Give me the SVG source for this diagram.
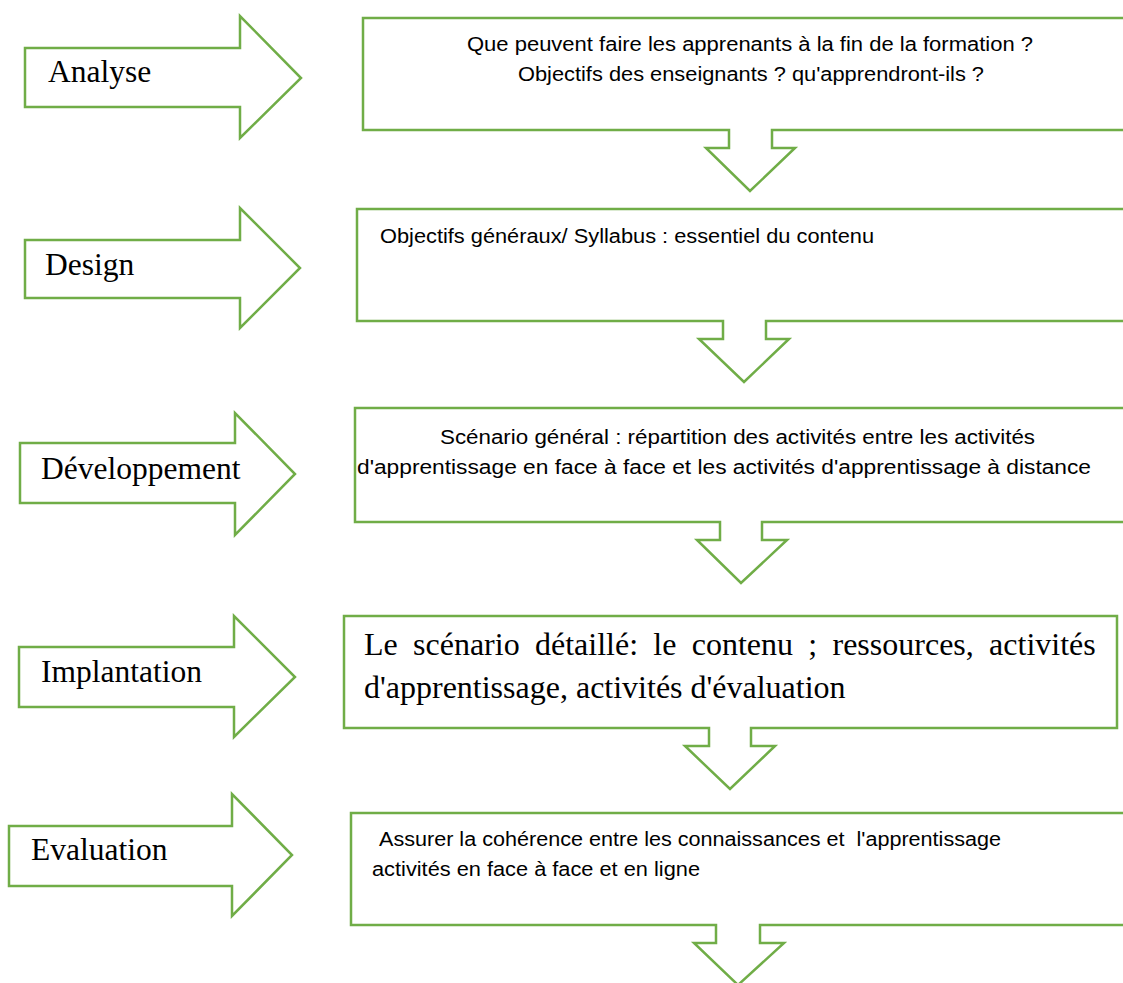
<svg xmlns="http://www.w3.org/2000/svg" width="1123" height="983" viewBox="0 0 1123 983">
<style>
.shape{fill:#ffffff;stroke:#70AD47;stroke-width:2.5;stroke-linejoin:miter}
.lbl{font-family:"Liberation Serif","Times New Roman",serif;font-size:31.5px;fill:#000}
.cal{font-family:"Liberation Sans",Arial,sans-serif;font-size:19.5px;fill:#000}
.tnr{font-family:"Liberation Serif","Times New Roman",serif;font-size:32px;fill:#000}
</style>
<rect width="1123" height="983" fill="#ffffff"/>
<g id="phase-analyse">
<path class="shape" d="M25,48 H240 V16 L301,78 L240,138 V107 H25 Z"/>
<text class="lbl" x="48" y="82">Analyse</text>
</g>
<g id="phase-design">
<path class="shape" d="M25,240 H240 V208 L300,268 L240,328 V298 H25 Z"/>
<text class="lbl" x="45" y="275">Design</text>
</g>
<g id="phase-developpement">
<path class="shape" d="M20,443 H235 V413 L295,474 L235,535 V503 H20 Z"/>
<text class="lbl" x="41" y="479">Développement</text>
</g>
<g id="phase-implantation">
<path class="shape" d="M19,647 H234 V616 L295,677 L234,737 V707 H19 Z"/>
<text class="lbl" x="41" y="682">Implantation</text>
</g>
<g id="phase-evaluation">
<path class="shape" d="M9,826 H232 V794 L292,855 L232,916 V886 H9 Z"/>
<text class="lbl" x="31" y="860">Evaluation</text>
</g>
<g id="connectors"></g>
<g id="box-analyse">
<path class="shape" d="M363,18 H1140 V130 H772 V148 H795 L750,191 L706,148 H729 V130 H363 Z"/>
<text class="cal" x="467" y="51" textLength="566" lengthAdjust="spacingAndGlyphs">Que peuvent faire les apprenants à la fin de la formation ?</text>
<text class="cal" x="518" y="81" textLength="466" lengthAdjust="spacingAndGlyphs">Objectifs des enseignants ? qu'apprendront-ils ?</text>
</g>
<g id="box-design">
<path class="shape" d="M357,209 H1140 V321 H766 V339 H789 L744,382 L699,339 H723 V321 H357 Z"/>
<text class="cal" x="380" y="243" textLength="494" lengthAdjust="spacingAndGlyphs">Objectifs généraux/ Syllabus : essentiel du contenu</text>
</g>
<g id="box-developpement">
<path class="shape" d="M355,408 H1140 V522 H762 V540 H787 L741,583 L697,540 H720 V522 H355 Z"/>
<text class="cal" x="440" y="444" textLength="595" lengthAdjust="spacingAndGlyphs">Scénario général : répartition des activités entre les activités</text>
<text class="cal" x="357" y="474" textLength="734" lengthAdjust="spacingAndGlyphs">d'apprentissage en face à face et les activités d'apprentissage à distance</text>
</g>
<g id="box-implantation">
<path class="shape" d="M344,616 H1117 V728 H751 V746 H775 L730,789 L685,746 H709 V728 H344 Z"/>
<text class="tnr" x="364" y="655" word-spacing="7.3">Le scénario détaillé: le contenu ; ressources, activités</text>
<text class="tnr" x="364" y="698">d'apprentissage, activités d'évaluation</text>
</g>
<g id="box-evaluation">
<path class="shape" d="M351,813 H1140 V925 H760 V943 H784 L738,985 L694,943 H716 V925 H351 Z"/>
<text class="cal" x="379" y="846" textLength="622" lengthAdjust="spacingAndGlyphs" xml:space="preserve">Assurer la cohérence entre les connaissances et  l'apprentissage</text>
<text class="cal" x="372" y="876" textLength="328" lengthAdjust="spacingAndGlyphs">activités en face à face et en ligne</text>
</g>
</svg>
